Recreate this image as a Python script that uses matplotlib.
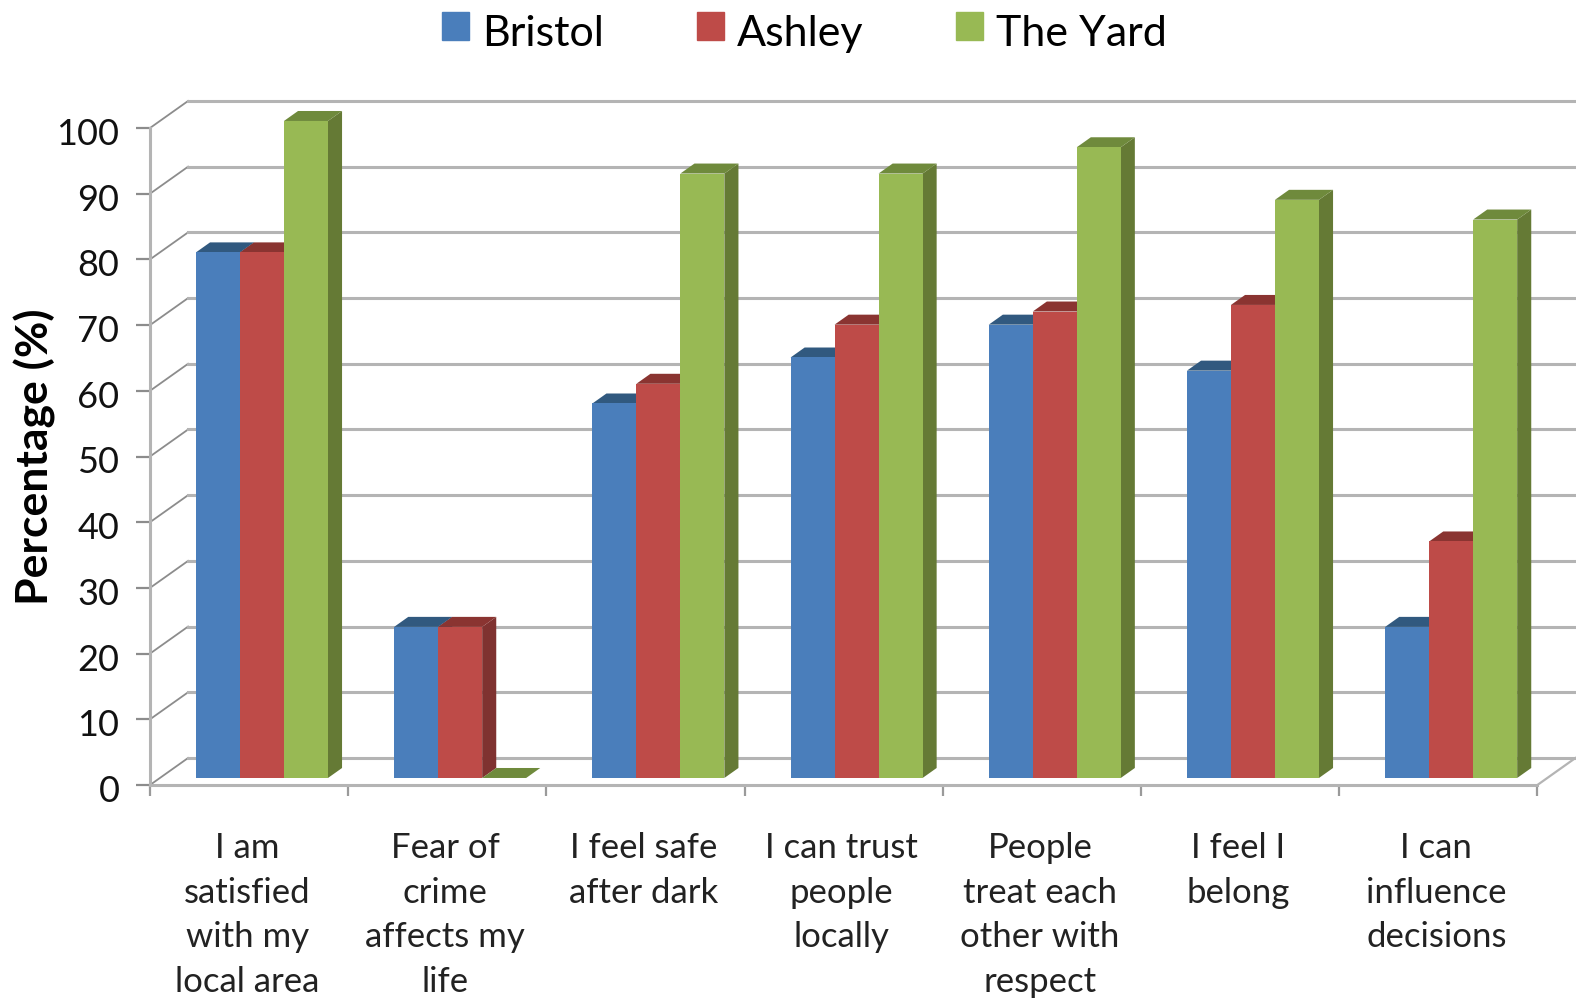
import matplotlib.pyplot as plt
from matplotlib.patches import Patch, Rectangle
from matplotlib.legend_handler import HandlerPatch
from matplotlib.transforms import ScaledTranslation

plt.rcParams['font.family'] = ['Lato', 'DejaVu Sans']

# Data
categories = ['I am\nsatisfied\nwith my\nlocal area', 'Fear of\ncrime\naffects my\nlife',
              'I feel safe\nafter dark', 'I can trust\npeople\nlocally',
              'People\ntreat each\nother with\nrespect', 'I feel I\nbelong',
              'I can\ninfluence\ndecisions']
series_names = ['Bristol', 'Ashley', 'The Yard']
bristol = [80, 23, 57, 64, 69, 62, 23]
ashley = [80, 23, 60, 69, 71, 72, 36]
yard = [100, 0, 92, 92, 96, 88, 85]
yticks = [0, 10, 20, 30, 40, 50, 60, 70, 80, 90, 100]

front_cols = ['#4a7ebb', '#be4b48', '#98b954']
top_cols = ['#31597f', '#8a3431', '#6f8a3c']
side_cols = ['#2f5680', '#7f3230', '#657a35']
grid_col = '#b4b4b4'

# pseudo 3D depth: how far the back wall sits from the front plane
depth_x = 0.192
depth_y = 4.11
bar_w = 0.222
bar_x0 = 0.182
bar_d0 = 0.26
bar_d1 = 0.63

fig = plt.figure(figsize=(15.76, 10.01), dpi=100)
ax = fig.add_axes([150 / 1576, 216 / 1001, 1426 / 1576, 657 / 1001])
ax.set_xlim(0, 1426 / 198.2)
ax.set_ylim(0, 100)


def proj(x, y, d):
    return x + d * depth_x, y + d * depth_y


# legend squares sit a little above the text centre
def raised_square(legend, orig_handle, xdescent, ydescent, width, height, fontsize):
    return Rectangle((-xdescent, -ydescent + 3.6), width, height)


# back wall grid and the diagonals running to the front axis
for v in yticks:
    ax.plot([0, depth_x], [v, v + depth_y], color='#8c8c8c', lw=1.3, clip_on=False, zorder=1)
    ax.plot([depth_x, 7.3], [v + depth_y, v + depth_y], color=grid_col, lw=2.2, clip_on=False, zorder=1)
ax.plot([7, 7 + depth_x], [0, depth_y], color=grid_col, lw=1.6, clip_on=False, zorder=1)

for i in range(len(categories)):
    for s, vals in enumerate([bristol, ashley, yard]):
        v = vals[i]
        x0 = i + bar_x0 + s * bar_w
        x1 = x0 + bar_w
        p0 = proj(x0, 0, bar_d0)
        p1 = proj(x1, 0, bar_d0)
        b = p0[1]
        t = b + v
        dx = (bar_d1 - bar_d0) * depth_x
        dy = (bar_d1 - bar_d0) * depth_y
        # side, top, then the front face
        ax.fill([p1[0], p1[0] + dx, p1[0] + dx, p1[0]], [b, b + dy, t + dy, t],
                color=side_cols[s], lw=0, zorder=3 + i + s * 0.1, clip_on=False)
        ax.fill([p0[0], p1[0], p1[0] + dx, p0[0] + dx], [t, t, t + dy, t + dy],
                color=top_cols[s], lw=0, zorder=3 + i + s * 0.1, clip_on=False)
        ax.bar(p0[0], v, width=bar_w, bottom=b, align='edge', color=front_cols[s], lw=0,
               zorder=3 + i + s * 0.1, clip_on=False)

# axes
for side in ['top', 'right']:
    ax.spines[side].set_visible(False)
for side in ['left', 'bottom']:
    ax.spines[side].set_color(grid_col)
    ax.spines[side].set_linewidth(2.2)
ax.spines['bottom'].set_bounds(0, 7)

ax.set_yticks(yticks)
ax.tick_params(axis='y', labelsize=26, length=10, width=1.6, color='#8c8c8c', pad=12, labelcolor='#111111')
shift_down = ScaledTranslation(0, -2.5 / 72, fig.dpi_scale_trans)
for lab in ax.get_yticklabels():
    lab.set_transform(lab.get_transform() + shift_down)
ax.set_xticks(range(8))
ax.set_xticklabels([])
ax.set_xticks([i + 0.49 for i in range(7)], minor=True)
ax.set_xticklabels(categories, minor=True, fontsize=25, linespacing=1.48, color='#222222')
ax.tick_params(axis='x', which='major', length=8, width=1.6, color='#9a9a9a')
ax.tick_params(axis='x', which='minor', length=0, pad=34)
ax.set_ylabel('Percentage (%)', fontsize=32, fontweight='bold', labelpad=0)

handles = [Patch(color=c) for c in front_cols]
fig.legend(handles, series_names, loc='center', bbox_to_anchor=(0.5105, 0.966), ncol=3, frameon=False,
           fontsize=31, handlelength=0.63, handleheight=0.63, handletextpad=0.3, columnspacing=2.15,
           handler_map={Patch: HandlerPatch(patch_func=raised_square)})

plt.savefig('out.png', dpi=100)
